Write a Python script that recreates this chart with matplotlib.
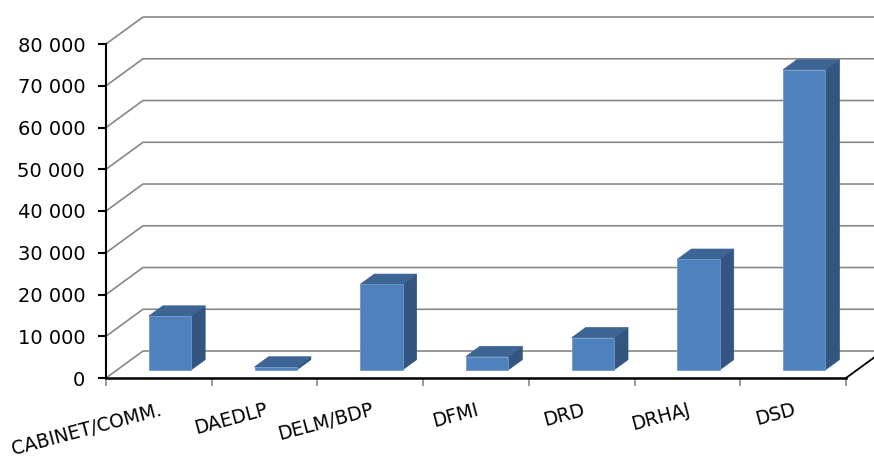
import numpy as np
import matplotlib
matplotlib.use("Agg")
import matplotlib.pyplot as plt
from matplotlib.patches import Polygon
from matplotlib.ticker import FuncFormatter

# categories and totals
categories = ["CABINET/COMM.", "DAEDLP", "DELM/BDP", "DFMI", "DRD", "DRHAJ", "DSD"]
values = [12900, 700, 20500, 3200, 7700, 26500, 71900]
y_ticks = [0, 10000, 20000, 30000, 40000, 50000, 60000, 70000, 80000]

# fake depth of the 3d box, in data units
DX = 0.35
DY = 6460
bar_w = 0.40
d_front, d_back = 0.30, 0.68

front_col = "#4f81bd"
side_col = "#34557f"
top_col = "#3c6494"
grid_col = "#878787"

fig = plt.figure(figsize=(8.74, 4.59), dpi=100)
ax = fig.add_axes([106 / 874, 1 - 378 / 459, 740 / 874, 334 / 459])
ax.set_xlim(-0.5, len(categories) - 0.5)
ax.set_ylim(0, 80000)

# back wall gridlines with the diagonal onto the front plane
x0 = -0.5
x_end = len(categories) - 0.5 + DX + 0.5
for v in y_ticks:
    ax.plot([x0, x0 + DX, x_end], [v, v + DY, v + DY], color=grid_col,
            lw=1.2, clip_on=False, zorder=1)

# floor edge on the right
ax.plot([len(categories) - 0.5, len(categories) - 0.5 + DX],
        [0, DY], color="black", lw=1.3, clip_on=False, zorder=2)

for i, v in enumerate(values):
    xl = i - bar_w / 2 + d_front * DX
    xr = i + bar_w / 2 + d_front * DX
    yb = d_front * DY
    ddx = (d_back - d_front) * DX
    ddy = (d_back - d_front) * DY
    side = Polygon([(xr, yb), (xr + ddx, yb + ddy), (xr + ddx, yb + ddy + v), (xr, yb + v)],
                   closed=True, facecolor=side_col, edgecolor=side_col, lw=0.5, zorder=3)
    top = Polygon([(xl, yb + v), (xr, yb + v), (xr + ddx, yb + ddy + v), (xl + ddx, yb + ddy + v)],
                  closed=True, facecolor=top_col, edgecolor=top_col, lw=0.5, zorder=3)
    ax.add_patch(side)
    ax.add_patch(top)
    ax.bar(i + d_front * DX, v, bottom=yb, width=bar_w, color=front_col,
           edgecolor="#6f98cc", lw=0.6, zorder=4)

for s in ["top", "right"]:
    ax.spines[s].set_visible(False)
ax.spines["left"].set_color("black")
ax.spines["left"].set_linewidth(1.5)
ax.spines["bottom"].set_color("black")
ax.spines["bottom"].set_linewidth(1.8)

ax.set_yticks(y_ticks)
ax.yaxis.set_major_formatter(FuncFormatter(lambda v, p: f"{int(v):,}".replace(",", " ")))
ax.tick_params(axis="y", direction="out", length=6, width=1.5, color="black",
               labelsize=14, pad=9)

# tick marks at slot edges, labels at slot centers
ax.set_xticks(np.arange(len(categories) + 1) - 0.5)
ax.set_xticklabels([])
ax.tick_params(axis="x", which="major", direction="out", length=6, width=1.2, color=grid_col)
ax.set_xticks(np.arange(len(categories)), minor=True)
ax.set_xticklabels(categories, minor=True, rotation=15, ha="right", rotation_mode="anchor")
ax.tick_params(axis="x", which="minor", length=0, labelsize=13.5, pad=16)

ax.set_facecolor("none")
fig.savefig("out.png", dpi=100)
